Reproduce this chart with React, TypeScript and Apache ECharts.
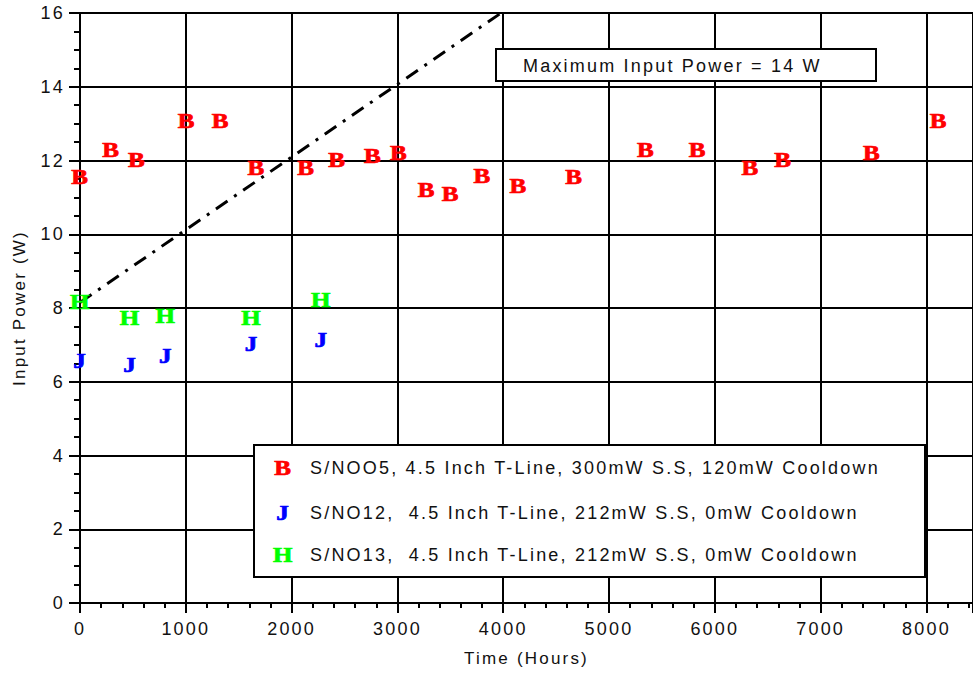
import React, { useEffect, useRef } from 'react';
import * as echarts from 'echarts';

// ---- data ----
const seriesNames = [
  'S/NOO5, 4.5 Inch T-Line, 300mW S.S, 120mW Cooldown',
  'S/NO12,  4.5 Inch T-Line, 212mW S.S, 0mW Cooldown',
  'S/NO13,  4.5 Inch T-Line, 212mW S.S, 0mW Cooldown',
];
const seriesMarkers = ['B', 'J', 'H'];
const seriesColors = ['#ff0000', '#0000ff', '#00ff00'];

const hoursB = [0, 292, 536, 1007, 1327, 1666, 2136, 2428, 2767, 3012, 3275, 3501, 3802, 4141, 4668, 5346, 5835, 6334, 6645, 7482, 8113];
const powerB = [11.53, 12.28, 12.01, 13.07, 13.07, 11.8, 11.8, 12.01, 12.12, 12.18, 11.2, 11.09, 11.58, 11.31, 11.53, 12.28, 12.28, 11.8, 12.01, 12.18, 13.07];

const hoursJ = [0, 471, 809, 1619, 2278];
const powerJ = [6.54, 6.45, 6.7, 7.02, 7.13];

const hoursH = [0, 471, 809, 1619, 2278];
const powerH = [8.14, 7.73, 7.76, 7.73, 8.22];

const limitHours = [0, 3980];
const limitPower = [8.15, 16];
const limitLabel = 'Maximum Input Power = 14 W';

const xTitle = 'Time (Hours)';
const yTitle = 'Input Power (W)';

const SANS = '"Liberation Sans", Arial, sans-serif';
const SERIF = '"Liberation Serif", "Times New Roman", serif';
const MARKER_FONT = `bold 20px ${SERIF}`;

const zip = (a: number[], b: number[]) => a.map((v, i) => [v, b[i]]);

export default function App() {
  const ref = useRef<HTMLDivElement>(null);

  useEffect(() => {
    if (!ref.current) return;
    const chart = echarts.init(ref.current, undefined, { renderer: 'svg' });

    const markerStyle = (si: number) => ({
      text: seriesMarkers[si],
      fill: seriesColors[si],
      stroke: seriesColors[si],
      lineWidth: 0.7,
      font: MARKER_FONT,
      align: 'center',
      verticalAlign: 'middle',
    });

    const markerSeries = [zip(hoursB, powerB), zip(hoursJ, powerJ), zip(hoursH, powerH)].map((data, si) => ({
      type: 'custom',
      name: seriesNames[si],
      data,
      z: 5,
      renderItem: (_params: any, api: any) => {
        const p = api.coord([api.value(0), api.value(1)]);
        return {
          type: 'text',
          x: p[0] + 1,
          y: p[1],
          scaleX: 1.25,
          style: markerStyle(si),
        };
      },
    }));

    const legendRows = [468, 513, 555];
    const legendGraphics: any[] = [
      {
        type: 'rect',
        z: 100,
        shape: { x: 254, y: 445, width: 671, height: 132 },
        style: { fill: '#fff', stroke: '#000', lineWidth: 2 },
      },
    ];
    seriesNames.forEach((name, i) => {
      legendGraphics.push({
        type: 'text',
        z: 101,
        x: 284,
        y: legendRows[i],
        scaleX: 1.25,
        style: markerStyle(i),
      });
      legendGraphics.push({
        type: 'text',
        z: 101,
        x: 310,
        y: legendRows[i],
        style: {
          text: name,
          fill: '#111',
          font: `18px ${SANS}`,
          align: 'left',
          verticalAlign: 'middle',
        },
      });
    });

    chart.setOption({
      animation: false,
      backgroundColor: '#fff',
      grid: { left: 80, right: -5, top: 13, bottom: 72, containLabel: false },
      xAxis: {
        type: 'value',
        min: 0,
        max: 8440,
        interval: 1000,
        name: xTitle,
        nameLocation: 'middle',
        nameGap: 47,
        nameTextStyle: { fontFamily: SANS, fontSize: 17, color: '#111' },
        axisLine: { show: true, onZero: false, lineStyle: { color: '#000', width: 2 } },
        axisTick: { show: true, inside: false, length: 10, lineStyle: { color: '#000', width: 2 } },
        minorTick: { show: true, splitNumber: 5, length: 5, lineStyle: { color: '#000', width: 2 } },
        axisLabel: {
          fontFamily: SANS,
          fontSize: 18,
          color: '#111',
          margin: 17,
          showMaxLabel: false,
          formatter: (v: number) => String(v),
        },
        splitLine: { show: true, lineStyle: { color: '#000', width: 2 } },
      },
      yAxis: {
        type: 'value',
        min: 0,
        max: 16,
        interval: 2,
        name: yTitle,
        nameLocation: 'middle',
        nameGap: 52,
        nameTextStyle: { fontFamily: SANS, fontSize: 17, color: '#111' },
        axisLine: { show: true, onZero: false, lineStyle: { color: '#000', width: 2 } },
        axisTick: { show: true, inside: false, length: 11, lineStyle: { color: '#000', width: 2 } },
        minorTick: { show: true, splitNumber: 4, length: 6, lineStyle: { color: '#000', width: 2 } },
        axisLabel: { fontFamily: SANS, fontSize: 18, color: '#111', margin: 15 },
        splitLine: { show: true, lineStyle: { color: '#000', width: 2 } },
      },
      series: [
        {
          type: 'line',
          name: 'limit',
          data: zip(limitHours, limitPower),
          symbol: 'none',
          z: 3,
          lineStyle: { color: '#000', width: 3, type: [14, 8, 3, 8] },
        },
        ...markerSeries,
      ],
      graphic: [
        {
          type: 'rect',
          z: 100,
          shape: { x: 496, y: 49, width: 380, height: 32 },
          style: { fill: '#fff', stroke: '#000', lineWidth: 2 },
        },
        {
          type: 'text',
          z: 101,
          x: 523,
          y: 66,
          style: {
            text: limitLabel,
            fill: '#111',
            font: `18px ${SANS}`,
            align: 'left',
            verticalAlign: 'middle',
          },
        },
        ...legendGraphics,
      ],
    });

    return () => chart.dispose();
  }, []);

  return (
    <div
      ref={ref}
      style={{
        position: 'absolute',
        left: 0,
        top: 0,
        width: 973,
        height: 675,
        letterSpacing: '2.2px',
      }}
    />
  );
}
